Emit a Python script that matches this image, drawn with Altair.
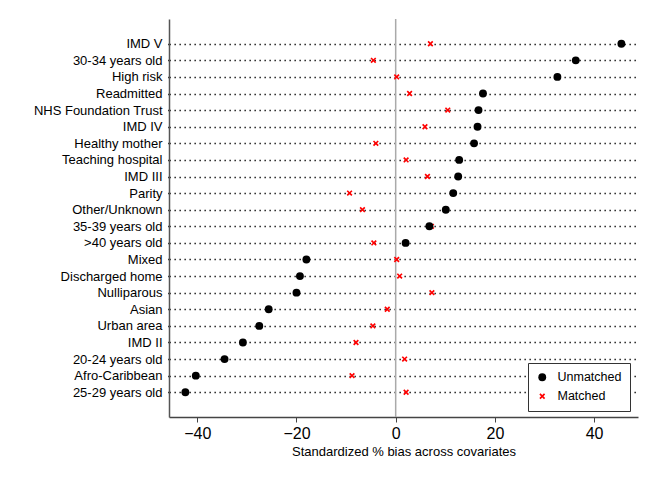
import json
import altair as alt
import pandas as pd

categories = [
    "IMD V", "30-34 years old", "High risk", "Readmitted", "NHS Foundation Trust",
    "IMD IV", "Healthy mother", "Teaching hospital", "IMD III", "Parity",
    "Other/Unknown", "35-39 years old", ">40 years old", "Mixed", "Discharged home",
    "Nulliparous", "Asian", "Urban area", "IMD II", "20-24 years old",
    "Afro-Caribbean", "25-29 years old",
]
unmatched = [45.5, 36.3, 32.6, 17.6, 16.7, 16.5, 15.8, 12.8, 12.6, 11.6,
             10.1, 6.8, 2.0, -18.0, -19.3, -20.0, -25.6, -27.5, -30.8, -34.5,
             -40.3, -42.4]
matched = [7.0, -4.5, 0.2, 2.8, 10.5, 5.9, -4.0, 2.1, 6.4, -9.3,
           -6.7, 7.2, -4.4, 0.2, 0.8, 7.3, -1.7, -4.6, -8.0, 1.8,
           -8.8, 2.1]
series = ["Unmatched", "Matched"]
x_ticks = [-40, -20, 0, 20, 40]

rows = []
for i, (c, v) in enumerate(zip(categories, matched)):
    rows.append({"covariate": c, "row": i, "bias": v, "sample": "Matched"})
for i, (c, v) in enumerate(zip(categories, unmatched)):
    rows.append({"covariate": c, "row": i, "bias": v, "sample": "Unmatched"})
df = pd.DataFrame(rows)

XPATH = ("M-1,-0.6L-0.6,-1L0,-0.4L0.6,-1L1,-0.6L0.4,0L1,0.6L0.6,1"
         "L0,0.4L-0.6,1L-1,0.6L-0.4,0Z")

legend = alt.Legend(
    title=None, orient="none", legendX=359, legendY=344, direction="vertical",
    strokeColor="#333333", fillColor="white", padding=8, labelFontSize=12.5,
    labelColor="black", rowPadding=6, labelOffset=9, symbolStrokeWidth=0,
    cornerRadius=0,
)

xscale = alt.Scale(domain=[-45.7, 48.85], nice=False, zero=False)
n = len(categories)
label_expr = json.dumps(categories) + "[datum.value]"

points = alt.Chart(df).mark_point(filled=True, opacity=1).encode(
    x=alt.X("bias:Q", scale=xscale,
            axis=alt.Axis(values=x_ticks, title="Standardized % bias across covariates",
                          grid=False, tickSize=5, tickColor="#444", domainColor="#444",
                          domainWidth=1.5, labelFontSize=16, labelColor="black",
                          labelPadding=3, titleFontSize=13, titleFontWeight="normal",
                          titleColor="black", titlePadding=4)),
    y=alt.Y("row:Q",
            scale=alt.Scale(domain=[-1.49, n - 1 + 1.49], reverse=True, nice=False, zero=False),
            axis=alt.Axis(title=None, values=list(range(n)), labelExpr=label_expr,
                          grid=True, gridDash=[1.3, 3.7], gridColor="black",
                          gridWidth=1.3, gridOpacity=1, ticks=True, tickDash=[1.3, 3.7],
                          tickColor="black", tickSize=5, tickWidth=1.3,
                          labelFontSize=13, labelColor="black", labelPadding=2,
                          labelFlush=False, labelOverlap=False,
                          domainColor="#555", domainWidth=1.5)),
    color=alt.Color("sample:N", scale=alt.Scale(domain=series, range=["black", "#ff0000"]),
                    legend=legend),
    shape=alt.Shape("sample:N", scale=alt.Scale(domain=series, range=["circle", XPATH]),
                    legend=legend),
    size=alt.Size("sample:N", scale=alt.Scale(domain=series, range=[62, 34]),
                  legend=legend),
)

zero = alt.Chart(pd.DataFrame({"x": [0]})).mark_rule(color="#aaaaaa", strokeWidth=1.5).encode(
    x=alt.X("x:Q", scale=xscale)
)

chart = alt.layer(zero, points).properties(
    width=469, height=398,
    padding={"left": 169, "top": 19, "right": 17, "bottom": 61},
    autosize="none",
).configure(font="Liberation Sans").configure_view(stroke=None)

chart.save("out.html", embed_options={"renderer": "svg", "actions": False})
